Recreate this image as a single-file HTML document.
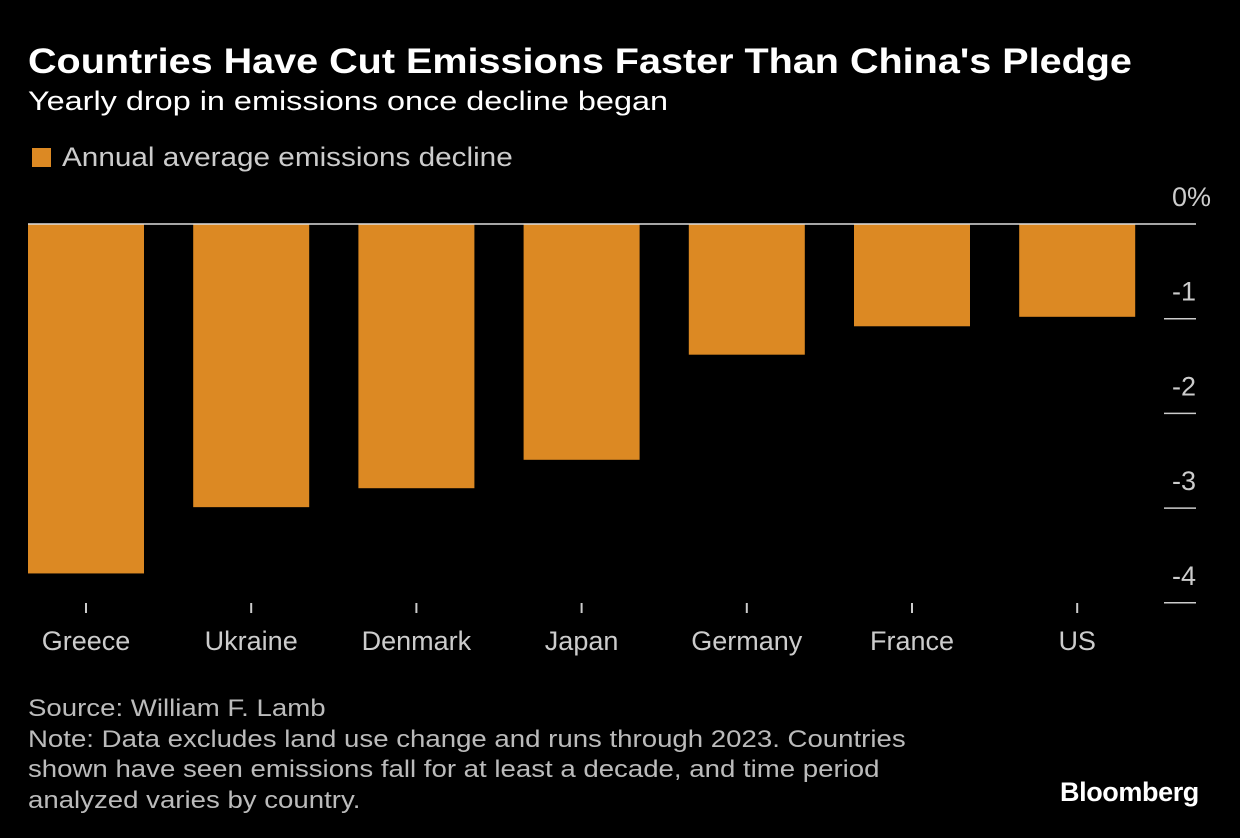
<!DOCTYPE html>
<html><head><meta charset="utf-8"><style>
html,body{margin:0;padding:0;background:#000;width:1240px;height:838px;overflow:hidden;font-family:"Liberation Sans",sans-serif}
.t{position:absolute;white-space:nowrap;transform-origin:0 0}
</style></head><body>
<div class="t" style="left:28px;top:42px;font-size:35px;font-weight:bold;color:#fff;transform:scaleX(1.13)">Countries Have Cut Emissions Faster Than China's Pledge</div>
<div class="t" style="left:28px;top:86px;font-size:27px;color:#fff;transform:scaleX(1.2)">Yearly drop in emissions once decline began</div>
<div style="position:absolute;left:32px;top:148px;width:19px;height:19px;background:#dc8923"></div>
<div class="t" style="left:62px;top:142px;font-size:27px;color:#ccc;transform:scaleX(1.1)">Annual average emissions decline</div>
<svg id="chart" width="1240" height="838" style="position:absolute;left:0;top:0"></svg>
<div class="t" style="left:28px;top:694px;font-size:24px;line-height:30.5px;color:#bbb;transform:scaleX(1.15)">Source: William F. Lamb<br>Note: Data excludes land use change and runs through 2023. Countries<br>shown have seen emissions fall for at least a decade, and time period<br>analyzed varies by country.</div>
<div class="t" style="left:1060px;top:777px;font-size:27px;font-weight:bold;color:#fff;letter-spacing:-0.4px">Bloomberg</div>
<script>
const categories=["Greece","Ukraine","Denmark","Japan","Germany","France","US"];
const values=[-3.69,-2.99,-2.79,-2.49,-1.38,-1.08,-0.98];
const yTicks=[0,-1,-2,-3,-4];
const yTickLabels=["0%","-1","-2","-3","-4"];
const NS="http://www.w3.org/2000/svg";
const svg=document.getElementById('chart');
const y0=224,unit=94.7;
function y(v){return y0-v*unit;}
function xc(i){return 86+i*165.2;}
const bw=116;
function mk(tag,attrs){const e=document.createElementNS(NS,tag);for(const k in attrs)e.setAttribute(k,attrs[k]);svg.appendChild(e);return e;}
values.forEach((v,i)=>{
  const r=mk('rect',{x:xc(i)-bw/2,y:Math.min(y(0),y(v)),width:bw,height:Math.abs(y(v)-y(0)),fill:'#dc8923'});
  
  
});
categories.forEach((c,i)=>{
  const l=mk('line',{x1:xc(i),x2:xc(i),y1:603,y2:613,stroke:'#ccc','stroke-width':2});
  
  
  const t=mk('text',{x:xc(i),y:650,'text-anchor':'middle','font-size':27,fill:'#ccc','font-family':'Liberation Sans, sans-serif'});
  t.textContent=c;
  
  
});
yTicks.forEach((v,i)=>{
  if(v===0){
    const z=mk('line',{x1:28,x2:1196,y1:y(0),y2:y(0),stroke:'#ddd','stroke-width':1.5});
    
    
  }else{
    const l=mk('line',{x1:1164,x2:1196,y1:y(v),y2:y(v),stroke:'#ccc','stroke-width':1.5});
    
    
  }
  const t=mk('text',{x:v===0?1211:1196,y:y(v)-18,'text-anchor':'end','font-size':27,fill:'#ccc','font-family':'Liberation Sans, sans-serif'});
  t.textContent=yTickLabels[i];
  
  
});
</script>
</body></html>
